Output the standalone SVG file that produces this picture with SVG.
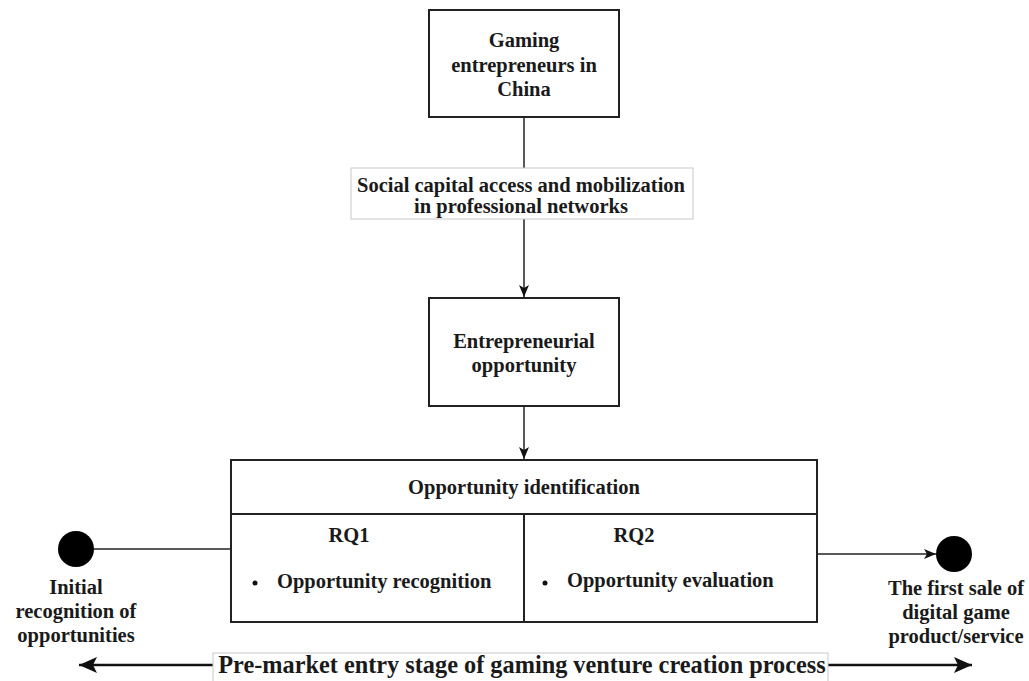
<svg xmlns="http://www.w3.org/2000/svg" width="1029" height="681" viewBox="0 0 1029 681">
<style>
.box{fill:#fff;stroke:#222;stroke-width:2}
.lbl{fill:#fff;stroke:#c8c8c8;stroke-width:1}
.t{font-family:"Liberation Serif","Times New Roman",serif;font-weight:bold;font-size:20.5px;fill:#1a1a1a}
.c{text-anchor:middle}
.big{font-size:24.3px}
.ln{fill:none;stroke:#222;stroke-width:1.5}
.thick{fill:none;stroke:#111;stroke-width:2.5}
</style>
<defs>
<marker id="arr" viewBox="0 0 12 10" refX="12" refY="5" markerWidth="12" markerHeight="10" orient="auto" markerUnits="userSpaceOnUse"><path d="M0,0 L12,5 L0,10 L3,5 Z" fill="#111"/></marker>
<marker id="arrBig" viewBox="0 0 18 16" refX="18" refY="8" markerWidth="18" markerHeight="16" orient="auto" markerUnits="userSpaceOnUse"><path d="M0,0 L18,8 L0,16 L4,8 Z" fill="#111"/></marker>
</defs>
<rect width="1029" height="681" fill="#fff"/>
<g id="connectors">
<path class="ln" d="M524,117 V168"/>
<path class="ln" d="M524,219 V297" marker-end="url(#arr)"/>
<path class="ln" d="M524,406 V459" marker-end="url(#arr)"/>
<path class="ln" d="M94,549 H231"/>
<path class="ln" d="M817,554 H936" marker-end="url(#arr)"/>
<path class="thick" d="M213,665 H79" marker-end="url(#arrBig)"/>
<path class="thick" d="M828,665 H972" marker-end="url(#arrBig)"/>
</g>
<g id="gaming-entrepreneurs">
<rect class="box" x="429" y="10" width="190" height="107"/>
<text class="t c" x="524" y="47">Gaming</text>
<text class="t c" x="524" y="72">entrepreneurs in</text>
<text class="t c" x="524" y="96">China</text>
</g>
<g id="social-capital">
<rect class="lbl" x="351" y="168" width="342" height="51"/>
<text class="t c" x="521" y="192">Social capital access and mobilization</text>
<text class="t c" x="521" y="213">in professional networks</text>
</g>
<g id="entrepreneurial-opportunity">
<rect class="box" x="429" y="298" width="190" height="108"/>
<text class="t c" x="524" y="348">Entrepreneurial</text>
<text class="t c" x="524" y="372">opportunity</text>
</g>
<g id="opportunity-identification">
<rect class="box" x="231" y="460" width="586" height="162"/>
<path class="box" d="M231,514 H817 M524,514 V622"/>
<text class="t c" x="524" y="494">Opportunity identification</text>
<text class="t c" x="349" y="542">RQ1</text>
<circle cx="255" cy="583" r="2.5" fill="#111"/>
<text class="t" x="277" y="588">Opportunity recognition</text>
<text class="t c" x="634" y="542">RQ2</text>
<circle cx="545" cy="583" r="2.5" fill="#111"/>
<text class="t" x="567" y="587">Opportunity evaluation</text>
</g>
<g id="initial-recognition">
<circle cx="76" cy="549" r="18" fill="#000"/>
<text class="t c" x="76" y="594">Initial</text>
<text class="t c" x="76" y="618">recognition of</text>
<text class="t c" x="76" y="642">opportunities</text>
</g>
<g id="first-sale">
<circle cx="954" cy="554" r="18" fill="#000"/>
<text class="t c" x="956" y="595">The first sale of</text>
<text class="t c" x="956" y="619">digital game</text>
<text class="t c" x="956" y="643">product/service</text>
</g>
<g id="pre-market-stage">
<rect class="lbl" x="213" y="653" width="615" height="30"/>
<text class="t c big" x="522" y="673">Pre-market entry stage of gaming venture creation process</text>
</g>
</svg>
